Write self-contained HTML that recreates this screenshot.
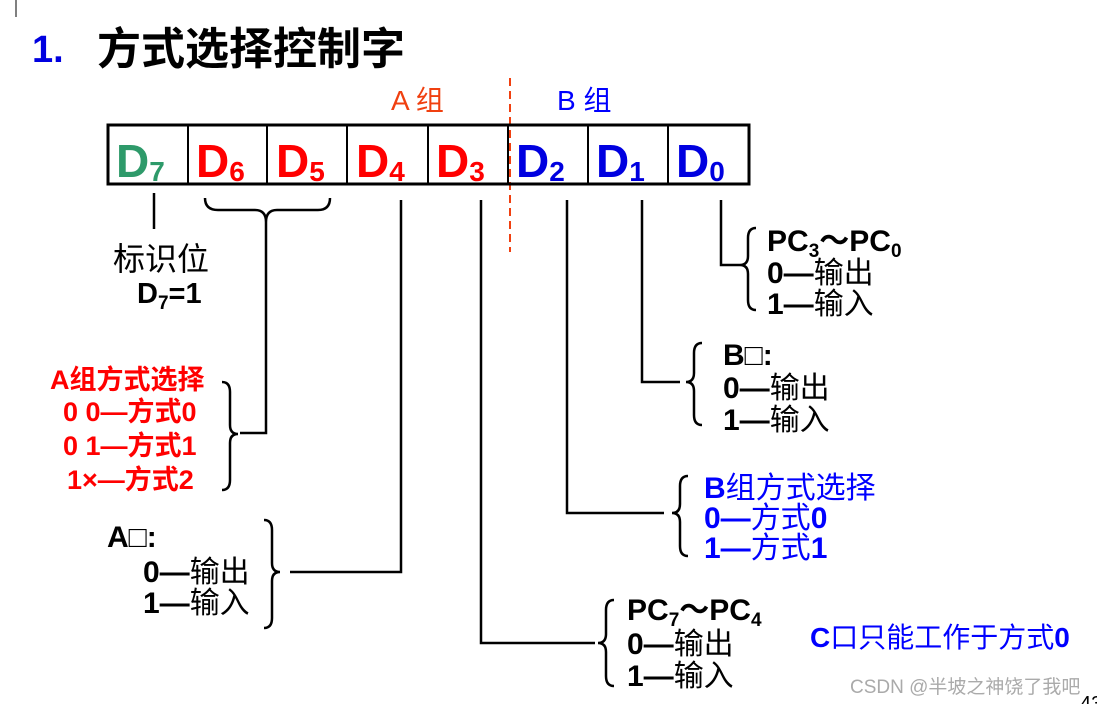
<!DOCTYPE html>
<html><head><meta charset="utf-8"><style>
body{margin:0;background:#fff;width:1097px;height:704px;overflow:hidden}
svg text{font-family:"Liberation Sans","Noto Sans CJK SC",sans-serif}
.b{font-weight:bold}
</style></head><body>
<svg width="1097" height="704" viewBox="0 0 1097 704" xmlns="http://www.w3.org/2000/svg">
<line x1="16" y1="0" x2="16" y2="17" stroke="#000" stroke-width="1"/>
<text x="32" y="62" class="b" font-size="38" fill="#0000e0">1.</text>
<text x="97" y="64" class="b" font-size="44" fill="#000">方式选择控制字</text>
<text x="391" y="110" font-size="28" fill="#f04010">A 组</text>
<text x="557" y="110" font-size="28" fill="#0000ff">B 组</text>
<line x1="510" y1="78" x2="510" y2="252" stroke="#f04010" stroke-width="2" stroke-dasharray="8,5"/>
<rect x="108" y="125" width="641" height="59" fill="none" stroke="#000" stroke-width="3"/>
<g stroke="#000" stroke-width="2">
<line x1="188" y1="125" x2="188" y2="184"/><line x1="267" y1="125" x2="267" y2="184"/>
<line x1="347" y1="125" x2="347" y2="184"/><line x1="428" y1="125" x2="428" y2="184"/>
<line x1="508" y1="125" x2="508" y2="184"/><line x1="588" y1="125" x2="588" y2="184"/>
<line x1="668" y1="125" x2="668" y2="184"/>
</g>
<g class="b" font-size="46">
<text x="116" y="177" fill="#2e9a6a">D<tspan font-size="28" dy="4">7</tspan></text>
<text x="196" y="177" fill="#ff0000">D<tspan font-size="28" dy="4">6</tspan></text>
<text x="276" y="177" fill="#ff0000">D<tspan font-size="28" dy="4">5</tspan></text>
<text x="356" y="177" fill="#ff0000">D<tspan font-size="28" dy="4">4</tspan></text>
<text x="436" y="177" fill="#ff0000">D<tspan font-size="28" dy="4">3</tspan></text>
<text x="516" y="177" fill="#0000e0">D<tspan font-size="28" dy="4">2</tspan></text>
<text x="596" y="177" fill="#0000e0">D<tspan font-size="28" dy="4">1</tspan></text>
<text x="676" y="177" fill="#0000e0">D<tspan font-size="28" dy="4">0</tspan></text>
</g>
<g fill="none" stroke="#000" stroke-width="2.5">
<line x1="154" y1="193" x2="154" y2="229"/>
<path d="M205,198 Q205,210 218,210 L255,210 Q266,210 266,222 Q266,210 277,210 L318,210 Q330,210 330,198"/>
<polyline points="266,222 266,433 240,433"/>
<polyline points="401,200 401,572 290,572"/>
<polyline points="481,200 481,643 595,643"/>
<polyline points="567,200 567,513 664,513"/>
<polyline points="642,200 642,382 680,382"/>
<polyline points="721,200 721,265 740,265"/>
<path d="M222,382 Q230,382 230,392 L230,425 Q230,434 238,434 Q230,434 230,443 L230,480 Q230,490 222,490"/>
<path d="M264,520 Q272,520 272,530 L272,563 Q272,572 280,572 Q272,572 272,581 L272,618 Q272,628 264,628"/>
<path d="M614,600 Q606,600 606,610 L606,634 Q606,643 598,643 Q606,643 606,652 L606,676 Q606,686 614,686"/>
<path d="M688,476 Q680,476 680,486 L680,504 Q680,513 672,513 Q680,513 680,522 L680,546 Q680,556 688,556"/>
<path d="M702,343 Q694,343 694,353 L694,373 Q694,382 686,382 Q694,382 694,391 L694,415 Q694,425 702,425"/>
<path d="M756,228 Q748,228 748,238 L748,256 Q748,265 740,265 Q748,265 748,274 L748,300 Q748,310 756,310"/>
</g>
<text x="113" y="270" font-size="32" fill="#000">标识位</text>
<text x="137" y="303" class="b" font-size="29" fill="#000">D<tspan font-size="19" dy="6">7</tspan><tspan dy="-6">=1</tspan></text>
<g class="b" font-size="27" fill="#ff0000">
<text x="50" y="389">A组方式选择</text>
<text x="63" y="421">0  0—方式0</text>
<text x="63" y="455">0  1—方式1</text>
<text x="67" y="489">1×—方式2</text>
</g>
<g class="b" font-size="30" fill="#000">
<text x="107" y="547">A□:</text>
<text x="143" y="582">0—<tspan font-weight="normal">输出</tspan></text>
<text x="143" y="613">1—<tspan font-weight="normal">输入</tspan></text>
<text x="767" y="251">PC<tspan font-size="19" dy="6">3</tspan><tspan dy="-6">～PC</tspan><tspan font-size="19" dy="6">0</tspan></text>
<text x="767" y="283">0—<tspan font-weight="normal">输出</tspan></text>
<text x="767" y="314">1—<tspan font-weight="normal">输入</tspan></text>
<text x="723" y="365">B□:</text>
<text x="723" y="398">0—<tspan font-weight="normal">输出</tspan></text>
<text x="723" y="430">1—<tspan font-weight="normal">输入</tspan></text>
<text x="627" y="620">PC<tspan font-size="19" dy="6">7</tspan><tspan dy="-6">～PC</tspan><tspan font-size="19" dy="6">4</tspan></text>
<text x="627" y="654">0—<tspan font-weight="normal">输出</tspan></text>
<text x="627" y="686">1—<tspan font-weight="normal">输入</tspan></text>
</g>
<g class="b" font-size="30" fill="#0000ff">
<text x="704" y="498">B<tspan font-weight="normal">组方式选择</tspan></text>
<text x="704" y="528">0—<tspan font-weight="normal">方式</tspan>0</text>
<text x="704" y="558">1—<tspan font-weight="normal">方式</tspan>1</text>
</g>
<text x="810" y="647" class="b" font-size="28" fill="#0000ff">C<tspan font-weight="normal">口只能工作于方式</tspan>0</text>
<text x="850" y="693" font-size="19" fill="#aaa">CSDN @半坡之神饶了我吧</text>
<text x="1080" y="710" font-size="20" fill="#000">43</text>
</svg>
</body></html>
